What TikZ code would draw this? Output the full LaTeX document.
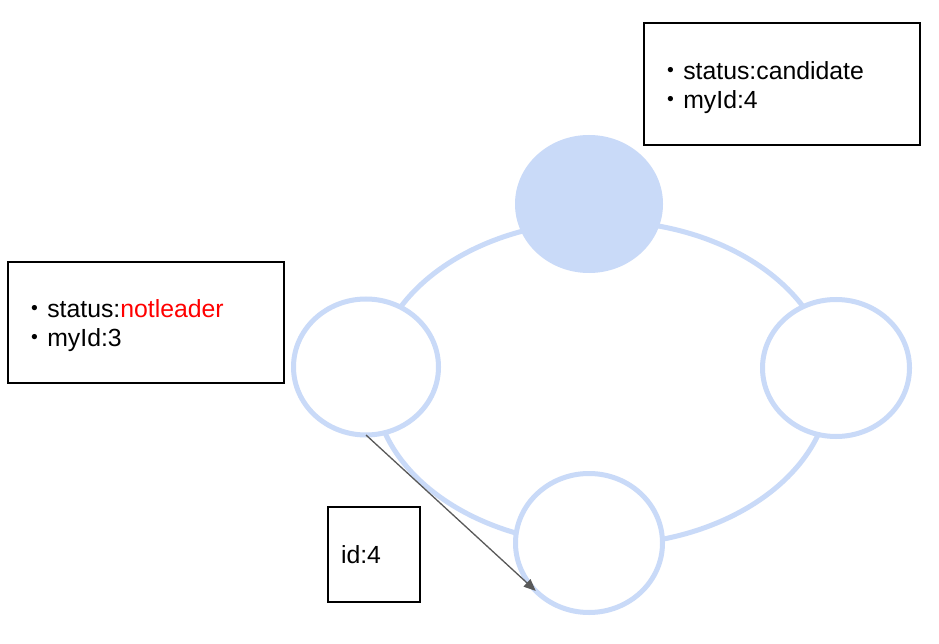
\documentclass[tikz,border=0pt]{standalone}
\usepackage{fontspec}
\setmainfont{Liberation Sans}
\newfontfamily\jp{Noto Sans CJK JP}
\usetikzlibrary{shapes.geometric,arrows.meta}
\definecolor{ringblue}{HTML}{C9DAF8}
\definecolor{arrowgray}{HTML}{595959}
\definecolor{redtext}{HTML}{FF0000}
\newcommand{\bul}{{\jp ・}}
\begin{document}
\begin{tikzpicture}[x=1pt,y=-1pt,
  nodecircle/.style={ellipse, draw=ringblue, line width=5pt, fill=white, inner sep=0pt, outer sep=0pt},
  leadercircle/.style={ellipse, fill=ringblue, draw=none, inner sep=0pt, outer sep=0pt},
  infobox/.style={rectangle, draw=black, line width=1.2pt, inner sep=0pt, inner xsep=14.5pt, align=left,
    font=\fontsize{24.8}{29}\selectfont, anchor=north west, outer sep=0pt},
  msgarrow/.style={draw=arrowgray, line width=1.3pt, -{Triangle[length=12pt,width=10pt]}}]
\useasboundingbox (0,0) rectangle (939,644);
\fill[white] (0,0) rectangle (939,644);
% ring
\draw[ringblue, line width=5pt] (602,383) ellipse [x radius=228pt, y radius=162pt];
% processes
\node[leadercircle, minimum width=148pt, minimum height=138pt] (top) at (589,204) {};
\node[nodecircle, minimum width=145pt, minimum height=136pt] (left) at (366,367) {};
\node[nodecircle, minimum width=147pt, minimum height=137pt] (right) at (836,368) {};
\node[nodecircle, minimum width=147pt, minimum height=139pt] (bottom) at (589,543) {};
% message
\draw[msgarrow] (left.south) -- (bottom.222.8);
% info boxes
\node[infobox, minimum width=276pt, minimum height=122pt, text width=247pt] (cand) at (644,23)
  {\rule{0pt}{25pt}\bul status:candidate\\\bul myId:4};
\node[infobox, minimum width=276pt, minimum height=121pt, text width=247pt] (notl) at (8,262)
  {\rule{0pt}{25pt}\bul status:\textcolor{redtext}{notleader}\\\bul myId:3};
\node[infobox, inner xsep=13pt, minimum width=92pt, minimum height=95pt, text width=66pt] (msg) at (328,507)
  {id:4};
\end{tikzpicture}
\end{document}
